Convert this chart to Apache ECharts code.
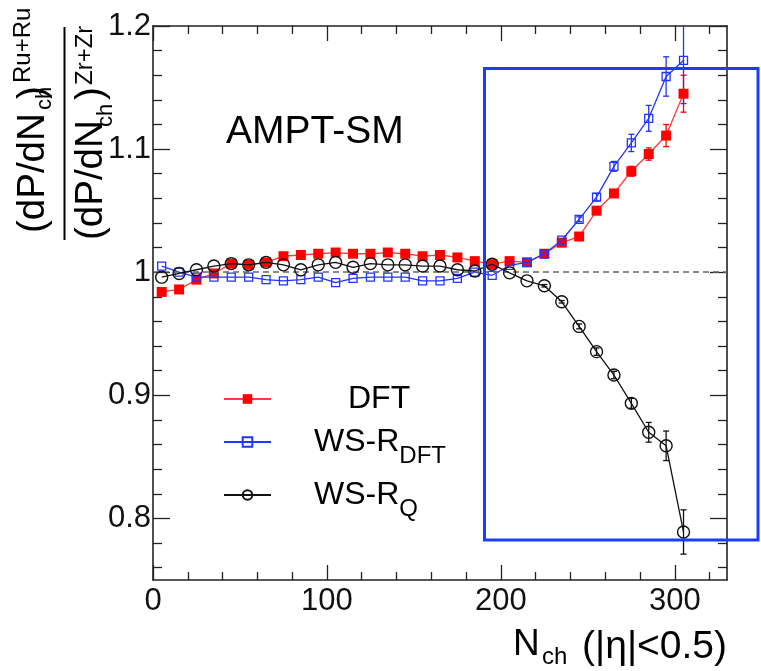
<!DOCTYPE html>
<html>
<head>
<meta charset="utf-8">
<script src="https://cdn.jsdelivr.net/npm/echarts@6/dist/echarts.min.js"></script>
<style>
  html, body { margin: 0; padding: 0; background: #fff; }
  #chart { width: 761px; height: 671px; }
</style>
</head>
<body>
<div id="chart"></div>
<script>
// Multiplicity bin centres, N_ch (|eta| < 0.5)
const nch = [5, 15, 25, 35, 45, 55, 65, 75, 85, 95, 105, 115, 125, 135, 145, 155,
             165, 175, 185, 195, 205, 215, 225, 235, 245, 255, 265, 275, 285, 295, 305];

// Ratio (dP/dN_ch)^{Ru+Ru} / (dP/dN_ch)^{Zr+Zr}
const dft = [0.984, 0.986, 0.994, 0.999, 1.007, 1.006, 1.008, 1.013, 1.014, 1.015, 1.016,
             1.015, 1.015, 1.016, 1.015, 1.013, 1.014, 1.012, 1.009, 1.0065, 1.009, 1.008,
             1.015, 1.024, 1.029, 1.050, 1.064, 1.082, 1.096, 1.111, 1.145];
const dftErr = [0, 0, 0, 0, 0, 0, 0, 0, 0, 0, 0, 0, 0, 0, 0, 0, 0, 0, 0, 0, 0, 0,
                0.001, 0.001, 0.002, 0.002, 0.003, 0.004, 0.005, 0.009, 0.015];

const wsDft = [1.005, 1.000, 0.996, 0.996, 0.996, 0.996, 0.994, 0.993, 0.994, 0.996, 0.9915,
               0.995, 0.996, 0.996, 0.996, 0.993, 0.993, 0.995, 1.000, 0.9975, 1.0055, 1.008,
               1.015, 1.026, 1.043, 1.061, 1.086, 1.105, 1.125, 1.159, 1.172];
const wsDftErr = [0, 0, 0, 0, 0, 0, 0, 0, 0, 0, 0, 0, 0, 0, 0, 0, 0, 0, 0, 0, 0, 0,
                  0.001, 0.001, 0.002, 0.003, 0.004, 0.007, 0.0105, 0.016, 0.035];

const wsQ = [0.996, 0.999, 1.002, 1.005, 1.007, 1.006, 1.008, 1.006, 1.002, 1.006, 1.008,
             1.004, 1.007, 1.006, 1.006, 1.005, 1.005, 1.002, 1.001, 1.0065, 0.9995, 0.993,
             0.989, 0.976, 0.956, 0.9355, 0.9165, 0.8935, 0.870, 0.859, 0.789];
const wsQErr = [0, 0, 0, 0, 0, 0, 0, 0, 0, 0, 0, 0, 0, 0, 0, 0, 0, 0, 0, 0, 0, 0,
                0.001, 0.001, 0.002, 0.003, 0.003, 0.004, 0.008, 0.012, 0.018];

const seriesNames = ['DFT', 'WS-R_DFT', 'WS-R_Q'];

// Axis ticks
const xMajorTicks = [0, 100, 200, 300];
const xMinorTicks = [20, 40, 60, 80, 120, 140, 160, 180, 220, 240, 260, 280, 320];
const yMajorTicks = [0.8, 0.9, 1.0, 1.1, 1.2];
const yMinorTicks = [0.76, 0.78, 0.82, 0.84, 0.86, 0.88, 0.92, 0.94, 0.96, 0.98,
                     1.02, 1.04, 1.06, 1.08, 1.12, 1.14, 1.16, 1.18];

const FONT = '"Liberation Sans", Arial, Helvetica, sans-serif';
const AXIS_COLOR = '#222';
const RED = '#ff0000', RED_LINE = '#ff3a3a', BLUE = '#2234ff', BLACK = '#111';

const gridBox = { left: 153, right: 34, top: 26, bottom: 91 };

function xAxisDef(gridIndex, position, ticks, len, withLabels, withLine) {
  return {
    type: 'value', gridIndex, position, min: 0, max: 330, interval: 100,
    axisLine: { show: withLine, onZero: false, lineStyle: { color: AXIS_COLOR, width: 1.6 } },
    axisTick: { show: true, inside: true, length: len, customValues: ticks,
                lineStyle: { color: AXIS_COLOR, width: 1.3 } },
    axisLabel: withLabels ? {
      show: true, customValues: ticks, margin: 6, color: '#111',
      fontFamily: FONT, fontSize: 31
    } : { show: false },
    minorTick: { show: false }, splitLine: { show: false }
  };
}
function yAxisDef(gridIndex, position, ticks, len, withLabels, withLine) {
  return {
    type: 'value', gridIndex, position, min: 0.75, max: 1.2,
    axisLine: { show: withLine, onZero: false, lineStyle: { color: AXIS_COLOR, width: 1.6 } },
    axisTick: { show: true, inside: true, length: len, customValues: ticks,
                lineStyle: { color: AXIS_COLOR, width: 1.3 } },
    axisLabel: withLabels ? {
      show: true, customValues: ticks, margin: 2, color: '#111',
      fontFamily: FONT, fontSize: 31,
      formatter: v => (Math.abs(v - 1) < 1e-9 ? '1' : String(+v.toFixed(2)))
    } : { show: false },
    minorTick: { show: false }, splitLine: { show: false }
  };
}

// Error bars with small caps
function errorBars(color) {
  return function (params, api) {
    const x = api.value(0), y = api.value(1), e = api.value(2);
    if (!e) return null;
    const hi = api.coord([x, y + e]);
    const lo = api.coord([x, y - e]);
    const cap = 3;
    const style = { stroke: color, lineWidth: 1.3 };
    return {
      type: 'group',
      children: [
        { type: 'line', shape: { x1: hi[0], y1: hi[1], x2: lo[0], y2: lo[1] }, style },
        { type: 'line', shape: { x1: hi[0] - cap, y1: hi[1], x2: hi[0] + cap, y2: hi[1] }, style },
        { type: 'line', shape: { x1: lo[0] - cap, y1: lo[1], x2: lo[0] + cap, y2: lo[1] }, style }
      ]
    };
  };
}

const pairs = vals => nch.map((n, i) => [n, vals[i]]);
const triples = (vals, errs) => nch.map((n, i) => [n, vals[i], errs[i]]);

function errSeries(vals, errs, color, extra) {
  return Object.assign({
    type: 'custom', xAxisIndex: 0, yAxisIndex: 0, clip: true, z: 2,
    silent: true, renderItem: errorBars(color),
    encode: { x: 0, y: 1 },
    data: triples(vals, errs)
  }, extra || {});
}

// Rotated pieces of the y-axis title (reads bottom to top)
function vtext(x, y, text, size) {
  return {
    type: 'text', x, y, rotation: Math.PI / 2, silent: true,
    style: { text, fill: '#000', font: size + 'px ' + FONT,
             align: 'left', verticalAlign: 'middle',
             textAlign: 'left', textVerticalAlign: 'middle' }
  };
}
function htext(x, y, text, size, align) {
  return {
    type: 'text', x, y, silent: true,
    style: { text, fill: '#000', font: size + 'px ' + FONT,
             align: align || 'left', verticalAlign: 'middle',
             textAlign: align || 'left', textVerticalAlign: 'middle' }
  };
}

const chart = echarts.init(document.getElementById('chart'), null, { renderer: 'canvas' });

chart.setOption({
  animation: false,
  backgroundColor: '#fff',
  grid: [
    Object.assign({}, gridBox, { containLabel: false }),
    Object.assign({}, gridBox, { containLabel: false })
  ],
  xAxis: [
    xAxisDef(0, 'bottom', xMajorTicks, 15, true, true),
    xAxisDef(0, 'top', xMajorTicks, 15, false, true),
    xAxisDef(1, 'bottom', xMinorTicks, 8, false, false),
    xAxisDef(1, 'top', xMinorTicks, 8, false, false)
  ],
  yAxis: [
    yAxisDef(0, 'left', yMajorTicks, 17, true, true),
    yAxisDef(0, 'right', yMajorTicks, 17, false, true),
    yAxisDef(1, 'left', yMinorTicks, 9, false, false),
    yAxisDef(1, 'right', yMinorTicks, 9, false, false)
  ],
  legend: {
    data: seriesNames,
    orient: 'vertical',
    left: 223, top: 383, padding: 0,
    itemWidth: 47, itemHeight: 12, itemGap: 1,
    selectedMode: false,
    textStyle: {
      color: '#000', fontFamily: FONT, fontSize: 32,
      rich: {
        g: { width: 38, fontSize: 32, lineHeight: 52 },
        g2: { width: 72, fontSize: 32, lineHeight: 52 },
        m: { fontFamily: FONT, fontSize: 32, lineHeight: 52, color: '#000' },
        s: { fontFamily: FONT, fontSize: 24, lineHeight: 24, padding: [28, 0, 0, 0], color: '#000' }
      }
    },
    formatter: function (name) {
      if (name === 'DFT') return '{g2| }{m|DFT}';
      if (name === 'WS-R_DFT') return '{g| }{m|WS-R}{s|DFT}';
      return '{g| }{m|WS-R}{s|Q}';
    }
  },
  series: [
    errSeries(dft, dftErr, RED, {
      markLine: {
        silent: true, symbol: 'none', label: { show: false },
        lineStyle: { color: '#666', type: [6, 4], width: 1.6 },
        data: [{ yAxis: 1 }]
      }
    }),
    errSeries(wsDft, wsDftErr, BLUE),
    errSeries(wsQ, wsQErr, BLACK),
    {
      name: seriesNames[0], type: 'line', xAxisIndex: 0, yAxisIndex: 0, z: 3,
      data: pairs(dft), symbol: 'rect', symbolSize: 10, showAllSymbol: true,
      itemStyle: { color: RED, borderWidth: 0 },
      lineStyle: { color: RED_LINE, width: 1.3 },
      emphasis: { disabled: true }
    },
    {
      name: seriesNames[1], type: 'line', xAxisIndex: 0, yAxisIndex: 0, z: 4,
      data: pairs(wsDft), symbol: 'rect', symbolSize: 8, showAllSymbol: true,
      itemStyle: { color: 'rgba(0,0,0,0)', borderColor: BLUE, borderWidth: 1.3 },
      lineStyle: { color: BLUE, width: 1.3 },
      emphasis: { disabled: true }
    },
    {
      name: seriesNames[2], type: 'line', xAxisIndex: 0, yAxisIndex: 0, z: 5,
      data: pairs(wsQ), symbol: 'circle', symbolSize: 12, showAllSymbol: true,
      itemStyle: { color: 'rgba(0,0,0,0)', borderColor: BLACK, borderWidth: 1.4 },
      lineStyle: { color: BLACK, width: 1.3 },
      emphasis: { disabled: true }
    }
  ],
  graphic: [
    // model label
    htext(226, 132, 'AMPT-SM', 39),
    // y-axis title: numerator
    vtext(33.5, 233, '(dP/dN', 38.5),
    vtext(45, 110, 'ch', 22),
    vtext(33.5, 99, ')', 38.5),
    vtext(23.5, 83, 'Ru+Ru', 24),
    // fraction bar
    { type: 'line', silent: true, shape: { x1: 64.5, y1: 27, x2: 64.5, y2: 240 },
      style: { stroke: '#000', lineWidth: 2 } },
    // y-axis title: denominator
    vtext(91.5, 240, '(dP/dN', 38.5),
    vtext(106, 127, 'ch', 22),
    vtext(91.5, 100, ')', 38.5),
    vtext(85, 85, 'Zr+Zr', 24),
    // x-axis title
    htext(513, 645, 'N', 37),
    htext(542, 657, 'ch', 24),
    htext(727, 647, '(|η|<0.5)', 39, 'right'),
    // highlighted high-multiplicity region
    { type: 'rect', silent: true, z: 100,
      shape: { x: 484.5, y: 68.5, width: 273.5, height: 471.5 },
      style: { fill: 'none', stroke: '#1a3cff', lineWidth: 3 } }
  ]
});
</script>
</body>
</html>
